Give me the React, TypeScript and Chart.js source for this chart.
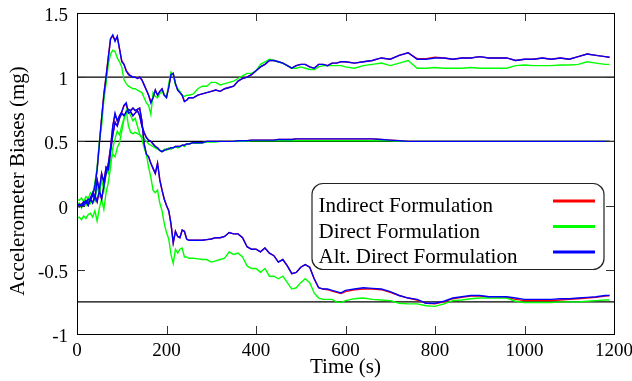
import React, { useEffect, useRef } from "react";
import { Chart, registerables } from "chart.js";

Chart.register(...registerables);

const FONT = "'Liberation Serif', 'Times New Roman', Times, serif";

const X_MIN = 0;
const X_MAX = 1200;
const X_STEP = 200;
const Y_MIN = -1;
const Y_MAX = 1.5;
const Y_STEP = 0.5;

const X_TICKS = [0, 200, 400, 600, 800, 1000, 1200];
const Y_TICKS = [-1, -0.5, 0, 0.5, 1, 1.5];

const X_AXIS_TITLE = "Time (s)";
const Y_AXIS_TITLE = "Accelerometer Biases (mg)";

const SERIES_NAMES = ["Indirect Formulation", "Direct Formulation", "Alt. Direct Formulation"];
const SERIES_COLORS = ["#ff0000", "#00ff00", "#0000ff"];

// true bias reference levels (black horizontal lines)
const TRUE_BIASES = [1, 0.5, -0.75];

const TIMES = [
  0, 5, 10, 15, 20, 25, 30, 35, 40, 45, 50, 55, 60, 65, 70, 75, 80, 85, 90, 95,
  100, 105, 110, 115, 120, 125, 130, 135, 140, 145, 150, 155, 160, 165, 170, 175, 180, 185, 190, 195,
  200, 205, 210, 215, 220, 225, 230, 235, 240, 245, 250,
  260, 270, 280, 290, 300, 310, 320, 330, 340, 350, 360, 370, 380, 390, 400, 410, 420, 430, 440, 450,
  460, 470, 480, 490, 500, 510, 520, 530, 540, 550, 560, 570, 580, 590, 600,
  620, 640, 660, 680, 700, 720, 740, 760, 780, 800, 820, 840, 860, 880, 900, 920, 940, 960, 980, 1000,
  1020, 1040, 1060, 1080, 1100, 1120, 1140, 1160, 1180, 1190,
];

// ---- Bias 1 ----
const INDIRECT_BIAS_1 = [
  0.00, 0.01, 0.01, 0.03, 0.02, 0.05, 0.05, 0.08, 0.16, 0.28, 0.49, 0.68, 0.87, 1.01, 1.16, 1.30, 1.32, 1.29, 1.31, 1.22,
  1.13, 1.10, 1.05, 1.03, 1.01, 1.00, 1.00, 0.99, 1.00, 0.98, 0.94, 0.90, 0.86, 0.81, 0.84, 0.90, 0.86, 0.89, 0.91, 0.86,
  0.85, 0.92, 1.02, 1.03, 0.95, 0.90, 0.88, 0.86, 0.81, 0.82, 0.84,
  0.84, 0.86, 0.87, 0.88, 0.89, 0.90, 0.89, 0.91, 0.92, 0.93, 0.97, 0.99, 1.00, 1.02, 1.05, 1.08, 1.10, 1.13, 1.13, 1.12,
  1.11, 1.09, 1.07, 1.09, 1.10, 1.10, 1.08, 1.07, 1.10, 1.10, 1.09, 1.11, 1.11, 1.12, 1.12,
  1.11, 1.12, 1.13, 1.15, 1.14, 1.17, 1.19, 1.145, 1.145, 1.155, 1.15, 1.14, 1.15, 1.15, 1.16, 1.15, 1.15, 1.15, 1.13, 1.14,
  1.14, 1.15, 1.14, 1.15, 1.14, 1.16, 1.18, 1.17, 1.16, 1.155,
];
const DIRECT_BIAS_1 = [
  0.05, 0.04, 0.06, 0.03, 0.07, 0.05, 0.10, 0.08, 0.18, 0.30, 0.50, 0.62, 0.82, 0.95, 1.10, 1.18, 1.21, 1.20, 1.15, 1.12,
  1.08, 0.98, 0.95, 0.93, 0.92, 0.91, 0.91, 0.90, 0.89, 0.88, 0.84, 0.80, 0.78, 0.71, 0.88, 0.85, 0.84, 0.87, 0.89, 0.86,
  0.84, 0.95, 1.04, 1.02, 0.94, 0.91, 0.89, 0.86, 0.85, 0.86, 0.86,
  0.87, 0.91, 0.93, 0.93, 0.96, 0.96, 0.94, 0.95, 0.96, 0.97, 0.99, 1.01, 1.03, 1.03, 1.05, 1.10, 1.12, 1.14, 1.13, 1.12,
  1.11, 1.09, 1.07, 1.07, 1.08, 1.07, 1.06, 1.06, 1.08, 1.09, 1.09, 1.09, 1.09, 1.09, 1.08,
  1.07, 1.09, 1.10, 1.11, 1.09, 1.11, 1.13, 1.07, 1.07, 1.075, 1.07, 1.07, 1.07, 1.075, 1.07, 1.07, 1.07, 1.07, 1.09, 1.095,
  1.09, 1.09, 1.09, 1.095, 1.095, 1.10, 1.12, 1.11, 1.10, 1.10,
];
const ALT_BIAS_1 = [
  0.00, 0.01, 0.00, 0.03, 0.02, 0.05, 0.04, 0.08, 0.15, 0.28, 0.48, 0.68, 0.86, 1.00, 1.15, 1.30, 1.33, 1.28, 1.32, 1.22,
  1.12, 1.10, 1.05, 1.02, 1.01, 1.00, 1.00, 0.99, 1.00, 0.98, 0.94, 0.90, 0.86, 0.80, 0.84, 0.90, 0.86, 0.89, 0.91, 0.86,
  0.84, 0.92, 1.02, 1.03, 0.95, 0.90, 0.88, 0.86, 0.81, 0.82, 0.84,
  0.84, 0.86, 0.87, 0.88, 0.89, 0.90, 0.89, 0.91, 0.92, 0.93, 0.97, 0.99, 1.00, 1.02, 1.05, 1.08, 1.10, 1.13, 1.13, 1.12,
  1.11, 1.09, 1.07, 1.09, 1.10, 1.10, 1.08, 1.07, 1.10, 1.10, 1.09, 1.11, 1.11, 1.12, 1.12,
  1.11, 1.12, 1.13, 1.15, 1.14, 1.17, 1.19, 1.14, 1.14, 1.15, 1.15, 1.14, 1.15, 1.15, 1.16, 1.15, 1.15, 1.15, 1.13, 1.14,
  1.14, 1.15, 1.14, 1.15, 1.14, 1.16, 1.18, 1.17, 1.16, 1.155,
];

// ---- Bias 2 ----
const INDIRECT_BIAS_2 = [
  0.00, -0.01, 0.01, 0.00, 0.03, 0.00, 0.05, 0.02, 0.08, 0.03, 0.12, 0.05, 0.15, 0.25, 0.33, 0.45, 0.62, 0.71, 0.66, 0.70,
  0.73, 0.78, 0.79, 0.72, 0.73, 0.70, 0.72, 0.74, 0.70, 0.62, 0.57, 0.53, 0.51, 0.50, 0.48, 0.46, 0.45, 0.43, 0.42, 0.43,
  0.44, 0.44, 0.45, 0.45, 0.46, 0.46, 0.46, 0.47, 0.47, 0.48, 0.48,
  0.49, 0.49, 0.49, 0.50, 0.50, 0.50, 0.50, 0.50, 0.50, 0.50, 0.505, 0.505, 0.505, 0.51, 0.51, 0.51, 0.51, 0.51, 0.51, 0.515,
  0.515, 0.515, 0.515, 0.52, 0.52, 0.52, 0.52, 0.52, 0.52, 0.52, 0.52, 0.52, 0.52, 0.52, 0.52,
  0.52, 0.52, 0.52, 0.515, 0.51, 0.505, 0.50, 0.50, 0.50, 0.50, 0.50, 0.50, 0.50, 0.50, 0.50, 0.50, 0.50, 0.50, 0.50, 0.50,
  0.50, 0.50, 0.50, 0.50, 0.50, 0.50, 0.50, 0.50, 0.50, 0.50,
];
const DIRECT_BIAS_2 = [
  0.00, 0.02, -0.02, 0.03, 0.00, 0.06, 0.02, 0.10, 0.04, 0.15, 0.08, 0.20, 0.12, 0.28, 0.25, 0.35, 0.40, 0.38, 0.45, 0.49,
  0.58, 0.67, 0.74, 0.62, 0.57, 0.56, 0.57, 0.56, 0.55, 0.54, 0.52, 0.50, 0.48, 0.47, 0.46, 0.45, 0.44, 0.43, 0.42, 0.44,
  0.43, 0.45, 0.44, 0.45, 0.46, 0.45, 0.46, 0.47, 0.46, 0.48, 0.48,
  0.49, 0.485, 0.49, 0.495, 0.495, 0.495, 0.50, 0.50, 0.50, 0.50, 0.50, 0.50, 0.50, 0.505, 0.505, 0.505, 0.505, 0.505, 0.505, 0.505,
  0.505, 0.505, 0.505, 0.505, 0.505, 0.505, 0.505, 0.505, 0.505, 0.505, 0.505, 0.505, 0.505, 0.505, 0.505,
  0.505, 0.505, 0.505, 0.505, 0.505, 0.50, 0.50, 0.50, 0.50, 0.50, 0.50, 0.50, 0.50, 0.50, 0.50, 0.50, 0.50, 0.50, 0.50, 0.50,
  0.50, 0.50, 0.50, 0.50, 0.50, 0.50, 0.50, 0.50, 0.50, 0.50,
];
const ALT_BIAS_2 = [
  0.00, -0.01, 0.01, 0.00, 0.03, 0.00, 0.05, 0.02, 0.08, 0.03, 0.12, 0.05, 0.15, 0.25, 0.32, 0.45, 0.62, 0.72, 0.66, 0.70,
  0.73, 0.78, 0.80, 0.72, 0.73, 0.70, 0.72, 0.74, 0.70, 0.62, 0.57, 0.53, 0.51, 0.50, 0.48, 0.46, 0.45, 0.43, 0.42, 0.43,
  0.44, 0.44, 0.45, 0.45, 0.46, 0.46, 0.46, 0.47, 0.47, 0.48, 0.48,
  0.49, 0.49, 0.49, 0.50, 0.50, 0.50, 0.50, 0.50, 0.50, 0.50, 0.505, 0.505, 0.505, 0.51, 0.51, 0.51, 0.51, 0.51, 0.51, 0.515,
  0.515, 0.515, 0.515, 0.52, 0.52, 0.52, 0.52, 0.52, 0.52, 0.52, 0.52, 0.52, 0.52, 0.52, 0.52,
  0.52, 0.52, 0.52, 0.515, 0.51, 0.505, 0.50, 0.50, 0.50, 0.50, 0.50, 0.50, 0.50, 0.50, 0.50, 0.50, 0.50, 0.50, 0.50, 0.50,
  0.50, 0.50, 0.50, 0.50, 0.50, 0.50, 0.50, 0.50, 0.50, 0.50,
];

// ---- Bias 3 ----
const INDIRECT_BIAS_3 = [
  0.00, 0.01, -0.01, 0.02, 0.04, 0.01, 0.06, 0.09, 0.05, 0.20, 0.12, 0.25, 0.18, 0.30, 0.28, 0.43, 0.55, 0.65, 0.62, 0.68,
  0.72, 0.70, 0.73, 0.75, 0.74, 0.76, 0.74, 0.75, 0.76, 0.66, 0.48, 0.40, 0.38, 0.33, 0.29, 0.25, 0.33, 0.20, 0.12, 0.05,
  0.00, -0.04, -0.14, -0.29, -0.20, -0.24, -0.25, -0.19, -0.20, -0.26, -0.27,
  -0.27, -0.27, -0.27, -0.265, -0.26, -0.25, -0.25, -0.24, -0.21, -0.22, -0.22, -0.25, -0.32, -0.34, -0.34, -0.36, -0.33, -0.37, -0.39, -0.44,
  -0.42, -0.47, -0.53, -0.52, -0.48, -0.46, -0.48, -0.57, -0.64, -0.65, -0.655, -0.665, -0.675, -0.685, -0.67,
  -0.655, -0.65, -0.65, -0.655, -0.675, -0.70, -0.72, -0.735, -0.76, -0.765, -0.75, -0.725, -0.715, -0.705, -0.705, -0.71, -0.71, -0.715, -0.73, -0.74,
  -0.74, -0.74, -0.74, -0.735, -0.73, -0.725, -0.72, -0.715, -0.705, -0.70,
];
const DIRECT_BIAS_3 = [
  -0.10, -0.09, -0.11, -0.08, -0.10, -0.07, -0.06, -0.09, -0.04, -0.12, -0.02, 0.05, -0.03, 0.10, 0.18, 0.30, 0.45, 0.52, 0.58, 0.55,
  0.62, 0.68, 0.72, 0.74, 0.70, 0.66, 0.68, 0.62, 0.56, 0.52, 0.45, 0.40, 0.30, 0.22, 0.12, 0.10, 0.12, 0.02, -0.04, -0.14,
  -0.21, -0.26, -0.38, -0.45, -0.34, -0.37, -0.34, -0.33, -0.40, -0.40, -0.41,
  -0.41, -0.415, -0.42, -0.42, -0.44, -0.43, -0.42, -0.41, -0.36, -0.38, -0.37, -0.40, -0.47, -0.49, -0.49, -0.52, -0.49, -0.55, -0.55, -0.57,
  -0.55, -0.60, -0.65, -0.64, -0.60, -0.57, -0.60, -0.68, -0.72, -0.73, -0.73, -0.73, -0.75, -0.755, -0.74,
  -0.725, -0.72, -0.73, -0.735, -0.74, -0.76, -0.765, -0.765, -0.78, -0.785, -0.765, -0.74, -0.735, -0.725, -0.72, -0.72, -0.72, -0.72, -0.745, -0.755,
  -0.755, -0.755, -0.755, -0.75, -0.75, -0.75, -0.745, -0.74, -0.735, -0.735,
];
const ALT_BIAS_3 = [
  0.00, 0.01, -0.01, 0.02, 0.04, 0.01, 0.06, 0.10, 0.05, 0.20, 0.12, 0.25, 0.18, 0.30, 0.28, 0.42, 0.55, 0.65, 0.62, 0.68,
  0.72, 0.70, 0.73, 0.75, 0.74, 0.76, 0.74, 0.75, 0.76, 0.66, 0.48, 0.40, 0.38, 0.33, 0.29, 0.25, 0.33, 0.20, 0.12, 0.05,
  0.00, -0.04, -0.14, -0.29, -0.20, -0.24, -0.25, -0.19, -0.20, -0.26, -0.27,
  -0.27, -0.27, -0.27, -0.265, -0.26, -0.25, -0.25, -0.24, -0.21, -0.22, -0.22, -0.25, -0.32, -0.34, -0.34, -0.36, -0.33, -0.37, -0.39, -0.44,
  -0.42, -0.47, -0.53, -0.52, -0.48, -0.46, -0.48, -0.57, -0.64, -0.65, -0.65, -0.66, -0.67, -0.68, -0.66,
  -0.65, -0.64, -0.645, -0.65, -0.67, -0.70, -0.72, -0.73, -0.76, -0.76, -0.745, -0.72, -0.71, -0.70, -0.70, -0.71, -0.71, -0.71, -0.72, -0.73,
  -0.73, -0.73, -0.73, -0.725, -0.725, -0.72, -0.715, -0.71, -0.70, -0.70,
];

const BIAS_GROUPS = [
  [INDIRECT_BIAS_1, DIRECT_BIAS_1, ALT_BIAS_1],
  [INDIRECT_BIAS_2, DIRECT_BIAS_2, ALT_BIAS_2],
  [INDIRECT_BIAS_3, DIRECT_BIAS_3, ALT_BIAS_3],
];

function toPoints(values: number[]) {
  return values.map((v, i) => ({ x: TIMES[i], y: v }));
}

const framePlugin = {
  id: "gnuplotFrame",
  afterDraw(chart: any) {
    const ctx: CanvasRenderingContext2D = chart.ctx;
    const area = chart.chartArea;
    const xs = chart.scales.x;
    const ys = chart.scales.y;
    const L = Math.round(area.left);
    const R = Math.round(area.right);
    const T = Math.round(area.top);
    const B = Math.round(area.bottom);
    const tick = 8;
    ctx.save();
    ctx.fillStyle = "#333333";
    for (const v of X_TICKS) {
      const px = Math.round(xs.getPixelForValue(v));
      ctx.fillRect(px, B - tick, 1, tick);
      ctx.fillRect(px, T, 1, tick);
    }
    for (const v of Y_TICKS) {
      const py = Math.round(ys.getPixelForValue(v));
      ctx.fillRect(L, py, tick, 1);
      ctx.fillRect(R - tick, py, tick, 1);
    }
    ctx.fillStyle = "#000000";
    ctx.fillRect(L, T, R - L + 1, 1);
    ctx.fillRect(L, B, R - L + 1, 1);
    ctx.fillRect(L, T, 1, B - T + 1);
    ctx.fillRect(R, T, 1, B - T + 1);
    ctx.restore();
  },
};

const yTitlePlugin = {
  id: "yTitle",
  afterDraw(chart: any) {
    const { ctx, chartArea } = chart;
    ctx.save();
    ctx.translate(18, (chartArea.top + chartArea.bottom) / 2 + 7.5);
    ctx.rotate(-Math.PI / 2);
    ctx.font = `21px ${FONT}`;
    ctx.fillStyle = "#000";
    ctx.textAlign = "center";
    ctx.textBaseline = "middle";
    ctx.fillText(Y_AXIS_TITLE, 0, 0);
    ctx.restore();
  },
};

const legendPlugin = {
  id: "insetLegend",
  afterDraw(chart: any) {
    const { ctx, chartArea } = chart;
    const x0 = chartArea.left + 235;
    const y0 = chartArea.top + 170.5;
    const w = 292;
    const h = 86;
    const r = 11;
    ctx.save();
    ctx.beginPath();
    ctx.moveTo(x0 + r, y0);
    ctx.lineTo(x0 + w - r, y0);
    ctx.arcTo(x0 + w, y0, x0 + w, y0 + r, r);
    ctx.lineTo(x0 + w, y0 + h - r);
    ctx.arcTo(x0 + w, y0 + h, x0 + w - r, y0 + h, r);
    ctx.lineTo(x0 + r, y0 + h);
    ctx.arcTo(x0, y0 + h, x0, y0 + h - r, r);
    ctx.lineTo(x0, y0 + r);
    ctx.arcTo(x0, y0, x0 + r, y0, r);
    ctx.closePath();
    ctx.fillStyle = "#fff";
    ctx.fill();
    ctx.lineWidth = 1.2;
    ctx.strokeStyle = "#222";
    ctx.stroke();
    ctx.font = `21px ${FONT}`;
    ctx.textAlign = "left";
    ctx.textBaseline = "alphabetic";
    SERIES_NAMES.forEach((name, i) => {
      ctx.fillStyle = "#000";
      ctx.fillText(name, x0 + 6.5, y0 + 28.5 + i * 25.5);
      ctx.beginPath();
      ctx.moveTo(x0 + 241, y0 + 17.5 + i * 25.5);
      ctx.lineTo(x0 + 283, y0 + 17.5 + i * 25.5);
      ctx.lineWidth = 3;
      ctx.strokeStyle = SERIES_COLORS[i];
      ctx.stroke();
    });
    ctx.restore();
  },
};

export default function App() {
  const canvasRef = useRef<HTMLCanvasElement>(null);

  useEffect(() => {
    const canvas = canvasRef.current;
    if (!canvas) return;

    const datasets: any[] = [];
    TRUE_BIASES.forEach((b) => {
      datasets.push({
        label: "True bias",
        data: [
          { x: X_MIN, y: b },
          { x: X_MAX, y: b },
        ],
        borderColor: "#000",
        borderWidth: 1.2,
        pointRadius: 0,
        order: 3,
      });
    });
    BIAS_GROUPS.forEach((group) => {
      group.forEach((values, f) => {
        datasets.push({
          label: SERIES_NAMES[f],
          data: toPoints(values),
          borderColor: SERIES_COLORS[f],
          borderWidth: 1.4,
          pointRadius: 0,
          order: 2 - f,
        });
      });
    });

    const chart = new Chart(canvas, {
      type: "line",
      data: { datasets },
      options: {
        responsive: false,
        animation: false,
        devicePixelRatio: 1,
        layout: { padding: { left: 0, right: 18, top: 13, bottom: 0 } },
        elements: { line: { tension: 0 }, point: { radius: 0 } },
        plugins: {
          legend: { display: false },
          tooltip: { enabled: false },
        },
        scales: {
          x: {
            type: "linear",
            min: X_MIN,
            max: X_MAX,
            grid: { display: false, drawTicks: false },
            border: { display: false },
            ticks: {
              stepSize: X_STEP,
              padding: 6,
              color: "#000",
              maxRotation: 0,
              font: { family: FONT, size: 19 },
              callback: (v: any) => String(v),
            },
            title: {
              display: true,
              text: X_AXIS_TITLE,
              color: "#000",
              font: { family: FONT, size: 21 },
              padding: { top: 0, bottom: 0.5 },
            },
            afterFit: (s: any) => {
              s.height = 47;
              s.paddingLeft = 0;
              s.paddingRight = 0;
            },
          },
          y: {
            type: "linear",
            min: Y_MIN,
            max: Y_MAX,
            grid: { display: false, drawTicks: false },
            border: { display: false },
            ticks: {
              stepSize: Y_STEP,
              padding: 9,
              labelOffset: 3,
              color: "#000",
              font: { family: FONT, size: 19 },
              callback: (v: any) => String(Math.round(Number(v) * 100) / 100),
            },
            afterFit: (s: any) => {
              s.width = 77;
              s.paddingTop = 0;
              s.paddingBottom = 0;
            },
          },
        },
      } as any,
      plugins: [framePlugin, yTitlePlugin, legendPlugin],
    });

    return () => chart.destroy();
  }, []);

  return (
    <div style={{ position: "fixed", left: 0, top: 0, width: 632, height: 381, background: "#fff" }}>
      <canvas ref={canvasRef} width={632} height={381} style={{ width: 632, height: 381, display: "block" }} />
    </div>
  );
}
